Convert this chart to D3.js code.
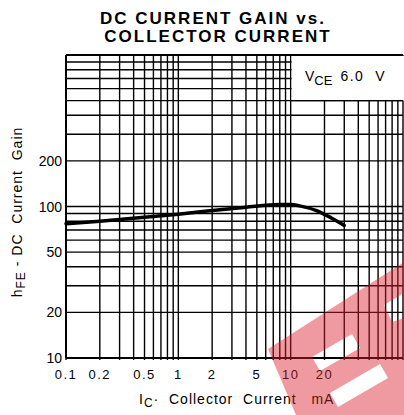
<!DOCTYPE html>
<html>
<head>
<meta charset="utf-8">
<script src="https://cdn.jsdelivr.net/npm/d3@7"></script>
<style>
  body { margin: 0; background: #fff; }
  svg text { font-family: "Liberation Sans", Arial, sans-serif; fill: #000; white-space: pre; }
</style>
</head>
<body>
<div id="chart"></div>
<script>
// collector current (mA) and DC current gain
const icValues = [0.1, 0.2, 0.5, 1, 2, 4, 8, 10, 12, 17, 23, 30];
const hfeValues = [77, 80, 85, 89, 94, 99, 103, 103, 101, 94, 84, 75];

const xTickLabels = [0.1, 0.2, 0.5, 1, 2, 5, 10, 20];
const yTickLabels = [10, 20, 50, 100, 200];

const width = 404;
const height = 415;
const margin = { top: 55, right: 1, bottom: 57, left: 66 };

const svg = d3
  .select('#chart')
  .append('svg')
  .attr('width', width)
  .attr('height', height);

svg.append('rect').attr('width', width).attr('height', height).attr('fill', '#fff');

const x = d3.scaleLog().domain([0.1, 100]).range([margin.left, width - margin.right]);
const y = d3.scaleLog().domain([10, 1000]).range([height - margin.bottom, margin.top]);

// title
svg
  .append('text')
  .attr('x', 213)
  .attr('y', 24)
  .attr('text-anchor', 'middle')
  .style('font-size', '17px')
  .style('font-weight', 'bold')
  .style('letter-spacing', '2px')
  .text('DC CURRENT GAIN vs.');

svg
  .append('text')
  .attr('x', 218)
  .attr('y', 42)
  .attr('text-anchor', 'middle')
  .style('font-size', '17px')
  .style('font-weight', 'bold')
  .style('letter-spacing', '2px')
  .text('COLLECTOR CURRENT');

// grid lines: 1..9 in every decade
const xGrid = [];
[0.1, 1, 10].forEach((d) => {
  for (let k = 1; k <= 9; k++) xGrid.push(d * k);
});
xGrid.push(100);
const yGrid = [];
[10, 100].forEach((d) => {
  for (let k = 1; k <= 9; k++) yGrid.push(d * k);
});

const grid = svg.append('g').attr('stroke', '#000').attr('stroke-width', 1.4);

grid
  .selectAll('line.v')
  .data(xGrid)
  .enter()
  .append('line')
  .attr('class', 'v')
  .attr('x1', (d) => x(d))
  .attr('x2', (d) => x(d))
  .attr('y1', y(1000))
  .attr('y2', y(10) + 2);

grid
  .selectAll('line.h')
  .data(yGrid)
  .enter()
  .append('line')
  .attr('class', 'h')
  .attr('x1', x(0.1))
  .attr('x2', x(100))
  .attr('y1', (d) => y(d))
  .attr('y2', (d) => y(d));

// legend box blanks the grid in the top right corner
svg
  .append('rect')
  .attr('x', x(10) + 1)
  .attr('y', y(1000) + 1)
  .attr('width', x(100) - x(10))
  .attr('height', y(500) - y(1000) - 1)
  .attr('fill', '#fff');

svg
  .append('line')
  .attr('x1', x(10))
  .attr('x2', x(100))
  .attr('y1', y(500))
  .attr('y2', y(500))
  .attr('stroke', '#000')
  .attr('stroke-width', 1.4);

const legend = svg.append('text').attr('x', 305).attr('y', 81).style('font-size', '14px');
legend.append('tspan').text('V');
legend.append('tspan').attr('dy', 4).style('font-size', '13px').text('CE');
legend.append('tspan').attr('dy', -4).attr('dx', 8).style('letter-spacing', '1.5px').text('6.0  V');

// plot border
svg
  .append('g')
  .attr('stroke', '#000')
  .attr('stroke-width', 2)
  .call((g) => {
    g.append('line').attr('x1', x(0.1)).attr('x2', x(0.1)).attr('y1', y(1000)).attr('y2', y(10));
    g.append('line').attr('x1', x(0.1)).attr('x2', x(100)).attr('y1', y(10)).attr('y2', y(10));
    g.append('line').attr('x1', x(0.1)).attr('x2', x(100)).attr('y1', y(1000)).attr('y2', y(1000));
  });

// tick labels
svg
  .selectAll('text.xt')
  .data(xTickLabels)
  .enter()
  .append('text')
  .attr('class', 'xt')
  .attr('x', (d) => x(d))
  .attr('y', y(10) + 21)
  .attr('text-anchor', 'middle')
  .style('font-size', '13px')
  .style('letter-spacing', '1.5px')
  .text((d) => d);

svg
  .selectAll('text.yt')
  .data(yTickLabels)
  .enter()
  .append('text')
  .attr('class', 'yt')
  .attr('x', x(0.1) - 4)
  .attr('y', (d) => y(d) + 5)
  .attr('text-anchor', 'end')
  .style('font-size', '14px')
  .text((d) => d);

// axis titles
const yTitle = svg
  .append('text')
  .attr('transform', 'translate(22,212) rotate(-90)')
  .attr('text-anchor', 'middle')
  .style('font-size', '14px')
  .style('letter-spacing', '1px');
yTitle.append('tspan').text('h');
yTitle.append('tspan').attr('dy', 3).style('font-size', '12px').text('FE');
yTitle.append('tspan').attr('dy', -3).text(' - DC  Current  Gain');

const xTitle = svg
  .append('text')
  .attr('x', 139)
  .attr('y', 404)
  .style('font-size', '14px')
  .style('letter-spacing', '1px');
xTitle.append('tspan').text('I');
xTitle.append('tspan').attr('dy', 3).style('font-size', '12px').text('C');
xTitle.append('tspan').attr('dy', -3).text('·  Collector  Current   mA');

// curve
const line = d3
  .line()
  .x((d, i) => x(icValues[i]))
  .y((d) => y(d))
  .curve(d3.curveMonotoneX);

svg
  .append('path')
  .datum(hfeValues)
  .attr('d', line)
  .attr('fill', 'none')
  .attr('stroke', '#000')
  .attr('stroke-width', 3.5)
  .attr('stroke-linecap', 'round');

// watermark in the lower right corner
const mark = 'M268,349 L404,262 L404,415 L296,415 Z ' +
  'M312,357 L352,334 L360,348 L320,371 Z ' +
  'M330,393 L380,364 L388,378 L338,407 Z ' +
  'M384,305 L404,293 L404,318 L392,322 Z';
svg
  .append('path')
  .attr('d', mark)
  .attr('fill', '#dc1e2d')
  .attr('fill-opacity', 0.45)
  .attr('fill-rule', 'evenodd');
</script>
</body>
</html>
